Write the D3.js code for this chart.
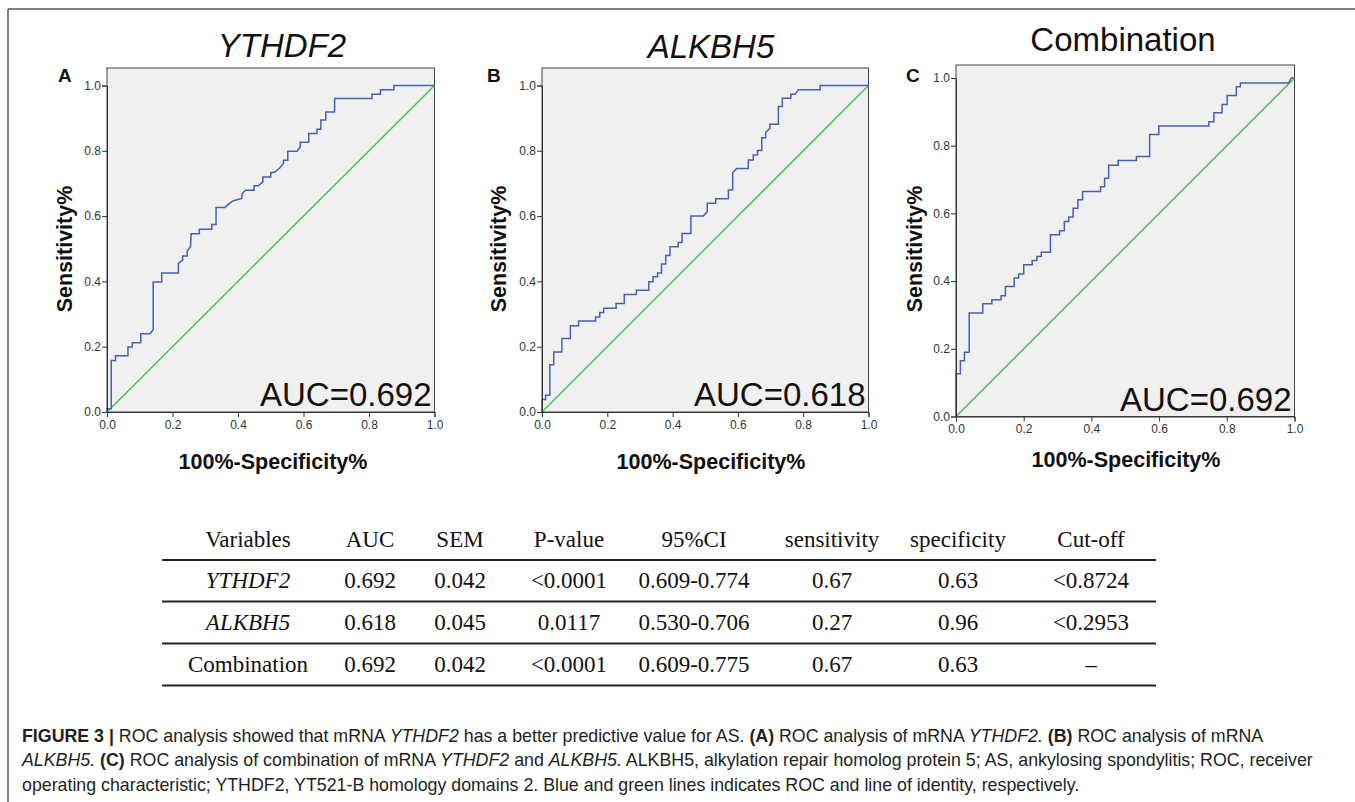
<!DOCTYPE html>
<html lang="en">
<head>
<meta charset="UTF-8">
<title>ROC curves</title>
<script src="https://cdn.jsdelivr.net/npm/d3@7"></script>
<style>
  body { margin: 0; background: #fff; }
  svg { display: block; }
</style>
</head>
<body>
<svg id="chart" width="1355" height="802"></svg>
<script>
// ROC curve corners (false positive rate / sensitivity)
var ythdf2Fpr = [0,0,0.013,0.013,0.026,0.026,0.064,0.064,0.077,0.077,0.103,0.103,0.131,0.141,0.141,0.167,0.167,0.218,0.218,0.231,0.231,0.245,0.245,0.255,0.257,0.282,0.282,0.320,0.320,0.333,0.333,0.360,0.370,0.386,0.411,0.413,0.423,0.449,0.449,0.462,0.476,0.476,0.500,0.500,0.513,0.529,0.539,0.539,0.552,0.552,0.580,0.590,0.590,0.616,0.616,0.641,0.641,0.653,0.653,0.668,0.668,0.695,0.695,0.809,0.809,0.835,0.835,0.876,0.876,1];
var ythdf2Tpr = [0,0.010,0.010,0.158,0.158,0.172,0.172,0.199,0.199,0.212,0.212,0.240,0.240,0.252,0.398,0.398,0.426,0.426,0.455,0.465,0.478,0.478,0.493,0.506,0.546,0.546,0.560,0.560,0.574,0.574,0.626,0.626,0.636,0.647,0.654,0.669,0.679,0.679,0.693,0.693,0.705,0.720,0.720,0.733,0.735,0.749,0.761,0.771,0.771,0.799,0.799,0.812,0.826,0.826,0.853,0.853,0.866,0.866,0.894,0.894,0.919,0.919,0.960,0.960,0.973,0.973,0.987,0.987,1,1];

var alkbh5Fpr = [0,0,0.011,0.011,0.024,0.024,0.036,0.036,0.061,0.061,0.087,0.087,0.112,0.112,0.164,0.164,0.177,0.177,0.189,0.189,0.227,0.227,0.252,0.252,0.289,0.289,0.327,0.327,0.340,0.340,0.354,0.354,0.366,0.366,0.379,0.379,0.392,0.392,0.417,0.417,0.429,0.429,0.456,0.456,0.494,0.506,0.506,0.532,0.532,0.571,0.571,0.584,0.584,0.596,0.632,0.632,0.647,0.647,0.660,0.660,0.673,0.673,0.685,0.685,0.698,0.698,0.724,0.724,0.736,0.736,0.762,0.762,0.775,0.785,0.852,0.852,1];
var alkbh5Tpr = [0,0.038,0.038,0.051,0.051,0.145,0.145,0.184,0.184,0.225,0.225,0.264,0.264,0.279,0.279,0.291,0.291,0.305,0.305,0.318,0.318,0.332,0.332,0.360,0.360,0.373,0.373,0.399,0.399,0.414,0.414,0.426,0.426,0.453,0.453,0.479,0.479,0.506,0.506,0.519,0.519,0.547,0.547,0.600,0.600,0.613,0.639,0.639,0.653,0.653,0.680,0.680,0.733,0.746,0.746,0.772,0.772,0.787,0.787,0.801,0.801,0.840,0.840,0.856,0.869,0.881,0.881,0.936,0.936,0.961,0.961,0.973,0.973,0.987,0.987,1,1];

var combFpr = [0,0,0.013,0.013,0.025,0.025,0.039,0.039,0.079,0.079,0.106,0.106,0.133,0.133,0.146,0.146,0.172,0.172,0.185,0.185,0.200,0.200,0.225,0.225,0.239,0.239,0.252,0.252,0.279,0.279,0.306,0.306,0.320,0.320,0.333,0.333,0.346,0.346,0.360,0.360,0.374,0.374,0.427,0.427,0.439,0.439,0.451,0.451,0.479,0.479,0.533,0.533,0.572,0.572,0.599,0.599,0.747,0.747,0.762,0.762,0.786,0.786,0.801,0.801,0.828,0.828,0.840,0.840,0.983,0.990,1];
var combTpr = [0,0.126,0.126,0.165,0.165,0.190,0.190,0.306,0.306,0.333,0.333,0.345,0.345,0.357,0.357,0.384,0.384,0.409,0.409,0.421,0.421,0.448,0.448,0.461,0.461,0.473,0.473,0.485,0.485,0.537,0.537,0.549,0.549,0.576,0.576,0.589,0.589,0.615,0.615,0.640,0.640,0.665,0.665,0.679,0.679,0.704,0.704,0.742,0.742,0.756,0.756,0.768,0.768,0.833,0.833,0.858,0.858,0.871,0.871,0.897,0.897,0.922,0.922,0.948,0.948,0.974,0.974,0.985,0.985,1,1];

var panelTitles = ["YTHDF2", "ALKBH5", "Combination"];
var panelLetters = ["A", "B", "C"];
var aucLabels = ["AUC=0.692", "AUC=0.618", "AUC=0.692"];
var tickValues = [0, 0.2, 0.4, 0.6, 0.8, 1.0];

var tableHeader = ["Variables", "AUC", "SEM", "P-value", "95%CI", "sensitivity", "specificity", "Cut-off"];
var tableRows = [
  ["YTHDF2", "0.692", "0.042", "<0.0001", "0.609-0.774", "0.67", "0.63", "<0.8724"],
  ["ALKBH5", "0.618", "0.045", "0.0117", "0.530-0.706", "0.27", "0.96", "<0.2953"],
  ["Combination", "0.692", "0.042", "<0.0001", "0.609-0.775", "0.67", "0.63", "\u2013"]
];

var svg = d3.select("#chart");
var sans = "Liberation Sans, Arial, sans-serif";

// outer figure frame (top + left only)
svg.append("line").attr("x1", 8).attr("x2", 1355).attr("y1", 9).attr("y2", 9)
   .attr("stroke", "#555").attr("stroke-width", 1.5);
svg.append("line").attr("x1", 8).attr("x2", 8).attr("y1", 9).attr("y2", 802)
   .attr("stroke", "#555").attr("stroke-width", 1.5);

var panels = [
  {fpr: ythdf2Fpr, tpr: ythdf2Tpr, left: 107, right: 434.5, top: 68, y1: 85.5, bottom: 412, italic: true,
   titleX: 282, titleY: 57, letterX: 58, yTitleX: 72, xTitleX: 273, xTitleY: 469},
  {fpr: alkbh5Fpr, tpr: alkbh5Tpr, left: 542, right: 868.5, top: 68, y1: 85.5, bottom: 412, italic: true,
   titleX: 711, titleY: 58, letterX: 487, yTitleX: 506, xTitleX: 711, xTitleY: 469},
  {fpr: combFpr, tpr: combTpr, left: 956, right: 1294.5, top: 65, y1: 78, bottom: 416.5, italic: false,
   titleX: 1123, titleY: 51, letterX: 906, yTitleX: 922, xTitleX: 1126, xTitleY: 467}
];

panels.forEach(function(p, i) {
  var x = d3.scaleLinear().domain([0, 1]).range([p.left, p.right]);
  var y = d3.scaleLinear().domain([0, 1]).range([p.bottom, p.y1]);
  var g = svg.append("g");

  g.append("rect").attr("x", p.left).attr("y", p.top)
   .attr("width", p.right - p.left).attr("height", p.bottom - p.top)
   .attr("fill", "#f0f0f0").attr("stroke", "#444").attr("stroke-width", 1);

  // line of identity
  g.append("line").attr("x1", x(0)).attr("y1", y(0)).attr("x2", x(1)).attr("y2", y(1))
   .attr("stroke", "#3dbb4a").attr("stroke-width", 1.3);

  var pts = p.fpr.map(function(d, k) { return [d, p.tpr[k]]; });
  var line = d3.line().x(function(d) { return x(d[0]); }).y(function(d) { return y(d[1]); });
  g.append("path").datum(pts).attr("d", line)
   .attr("fill", "none").attr("stroke", "#4561b3").attr("stroke-width", 1.5);

  var fmt = d3.format(".1f");
  var xAxis = g.append("g").attr("transform", "translate(0," + p.bottom + ")")
    .call(d3.axisBottom(x).tickValues(tickValues).tickSize(5).tickPadding(3).tickFormat(fmt));
  var yAxis = g.append("g").attr("transform", "translate(" + p.left + ",0)")
    .call(d3.axisLeft(y).tickValues(tickValues).tickSize(5).tickPadding(1).tickFormat(fmt));
  [xAxis, yAxis].forEach(function(a) {
    a.select(".domain").attr("stroke", "#333");
    a.selectAll(".tick line").attr("stroke", "#333");
    a.selectAll("text").attr("fill", "#333").style("font-family", sans).style("font-size", "12px");
  });

  g.append("text").attr("x", p.right - 3).attr("y", p.bottom - 6)
   .attr("text-anchor", "end").style("font-family", sans)
   .style("font-size", "33px").attr("fill", "#111").text(aucLabels[i]);

  g.append("text").attr("x", p.titleX).attr("y", p.titleY).attr("text-anchor", "middle")
   .style("font-family", sans).style("font-size", "33px")
   .style("font-style", p.italic ? "italic" : "normal").attr("fill", "#111").text(panelTitles[i]);

  g.append("text").attr("x", p.letterX).attr("y", 82)
   .style("font-family", sans).style("font-size", "19px")
   .style("font-weight", "bold").attr("fill", "#111").text(panelLetters[i]);

  g.append("text").attr("transform", "translate(" + p.yTitleX + "," + 249 + ") rotate(-90)")
   .attr("text-anchor", "middle").style("font-family", sans)
   .style("font-size", "21.5px").style("font-weight", "bold").attr("fill", "#111").text("Sensitivity%");

  g.append("text").attr("x", p.xTitleX).attr("y", p.xTitleY).attr("text-anchor", "middle")
   .style("font-family", sans).style("font-size", "21.5px")
   .style("font-weight", "bold").attr("fill", "#111").text("100%-Specificity%");
});

// results table
var colX = [248, 370, 460, 569, 694, 832, 958, 1091];
var tbl = svg.append("g").style("font-family", "Liberation Serif, Times New Roman, serif")
  .style("font-size", "23px").attr("fill", "#111");
tbl.selectAll("text.h").data(tableHeader).enter().append("text")
  .attr("x", function(d, i) { return colX[i]; }).attr("y", 547)
  .attr("text-anchor", "middle").text(function(d) { return d; });
var rowY = [588, 630, 672];
tableRows.forEach(function(r, ri) {
  tbl.selectAll("text.r" + ri).data(r).enter().append("text")
    .attr("x", function(d, i) { return colX[i]; }).attr("y", rowY[ri])
    .attr("text-anchor", "middle")
    .style("font-style", function(d, i) { return (i === 0 && ri < 2) ? "italic" : "normal"; })
    .text(function(d) { return d; });
});
[560, 601.5, 643.5, 685.5].forEach(function(ly) {
  tbl.append("line").attr("x1", 162).attr("x2", 1156).attr("y1", ly).attr("y2", ly)
    .attr("stroke", "#222").attr("stroke-width", 2);
});

// caption
var captionLines = [
  [["FIGURE 3 |", "b"], [" ROC analysis showed that mRNA ", ""], ["YTHDF2", "i"], [" has a better predictive value for AS. ", ""],
   ["(A)", "b"], [" ROC analysis of mRNA ", ""], ["YTHDF2.", "i"], [" ", ""], ["(B)", "b"], [" ROC analysis of mRNA", ""]],
  [["ALKBH5.", "i"], [" ", ""], ["(C)", "b"], [" ROC analysis of combination of mRNA ", ""], ["YTHDF2", "i"], [" and ", ""],
   ["ALKBH5.", "i"], [" ALKBH5, alkylation repair homolog protein 5; AS, ankylosing spondylitis; ROC, receiver", ""]],
  [["operating characteristic; YTHDF2, YT521-B homology domains 2. Blue and green lines indicates ROC and line of identity, respectively.", ""]]
];
var capY = [742, 766, 791];
captionLines.forEach(function(parts, li) {
  var t = svg.append("text").attr("x", 22).attr("y", capY[li])
    .style("font-family", sans).style("font-size", "17.8px")
    .attr("fill", "#231f20").attr("xml:space", "preserve").style("white-space", "pre");
  parts.forEach(function(pt) {
    t.append("tspan").text(pt[0])
      .style("font-weight", pt[1] === "b" ? "bold" : "normal")
      .style("font-style", pt[1] === "i" ? "italic" : "normal");
  });
});
</script>
</body>
</html>
